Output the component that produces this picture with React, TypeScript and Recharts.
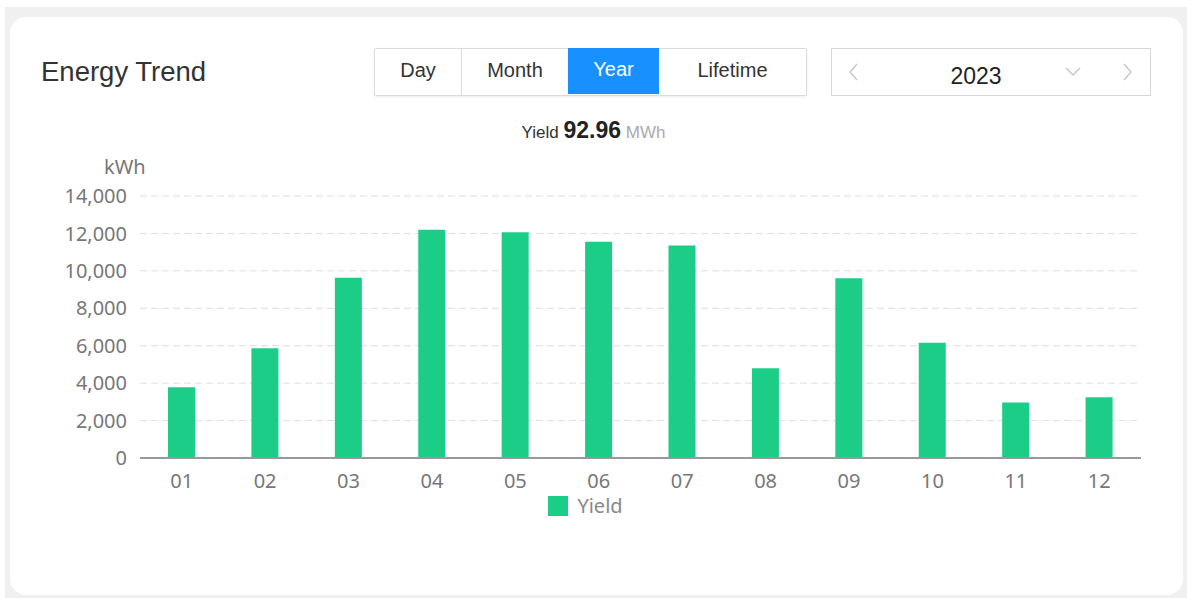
import { BarChart, Bar, XAxis, YAxis, CartesianGrid, Legend } from 'recharts'

const months = ['01', '02', '03', '04', '05', '06', '07', '08', '09', '10', '11', '12']
const yieldKwh = [3780, 5860, 9630, 12200, 12060, 11560, 11360, 4800, 9600, 6160, 2970, 3240]
const yTicks = [0, 2000, 4000, 6000, 8000, 10000, 12000, 14000]
const periods = ['Day', 'Month', 'Year', 'Lifetime']

const data = months.map((m, i) => ({ month: m, Yield: yieldKwh[i] }))

const GREEN = '#1ccd87'
const SANS = 'Arial, "Liberation Sans", sans-serif'
const TICK_FONT = '"Noto Sans", "Open Sans", sans-serif'

function LegendBox() {
  return (
    <div style={{ display: 'flex', justifyContent: 'center', alignItems: 'center', paddingTop: 4, marginLeft: 30 }}>
      <span style={{ width: 20, height: 20, background: GREEN, display: 'inline-block', marginRight: 9 }} />
      <span style={{ fontFamily: TICK_FONT, fontSize: 20, color: '#888' }}>Yield</span>
    </div>
  )
}

export default function App() {
  const btnWidths = [86, 107, 91, 147]
  return (
    <div style={{ position: 'absolute', left: 0, top: 0, width: 1187, height: 598, background: '#fff' }}>
      <div style={{ position: 'absolute', left: 5, top: 7, right: 0, bottom: 0, background: '#eff0f2' }} />
      <div style={{ position: 'absolute', left: 10, top: 17, width: 1173, height: 578, background: '#fff', borderRadius: 16 }} />

      <div style={{ position: 'absolute', left: 41, top: 56, fontFamily: SANS, fontSize: 27.5, color: '#333' }}>Energy Trend</div>

      {/* period switch */}
      <div style={{ position: 'absolute', left: 374, top: 48, height: 46, display: 'flex', border: '1px solid #dcdcdc', borderRadius: 2, boxShadow: '0 1px 3px rgba(0,0,0,0.08)', background: '#fff' }}>
        {periods.map((p, i) => (
          <div key={p} style={{
            width: btnWidths[i], height: 46, display: 'flex', alignItems: 'center', justifyContent: 'center',
            fontFamily: SANS, fontSize: 20, color: p === 'Year' ? '#fff' : '#333',
            background: p === 'Year' ? '#1890ff' : '#fff',
            borderLeft: i === 1 ? '1px solid #dcdcdc' : 'none',
            marginTop: p === 'Year' ? -1 : 0, paddingBottom: 3, boxSizing: 'border-box',
          }}>{p}</div>
        ))}
      </div>

      {/* year picker */}
      <div style={{ position: 'absolute', left: 831, top: 48, width: 318, height: 46, border: '1px solid #d6d6d6' }}>
        <svg width={318} height={46} style={{ position: 'absolute', left: 0, top: 0 }}>
          <polyline points="25,15 18,23 25,31" fill="none" stroke="#c8c8c8" strokeWidth={1.5} />
          <polyline points="234,19 241,26 248,19" fill="none" stroke="#c8c8c8" strokeWidth={1.5} />
          <polyline points="292,15 299,23 292,31" fill="none" stroke="#c8c8c8" strokeWidth={1.5} />
        </svg>
        <div style={{ position: 'absolute', left: 96, width: 96, top: 14, textAlign: 'center', fontFamily: SANS, fontSize: 23, color: '#222' }}>2023</div>
      </div>

      {/* total */}
      <div style={{ position: 'absolute', left: 0, width: 1187, top: 117, textAlign: 'center', fontFamily: SANS, color: '#333' }}>
        <span style={{ fontSize: 17 }}>Yield </span>
        <span style={{ fontSize: 23, fontWeight: 'bold', color: '#222' }}>92.96</span>
        <span style={{ fontSize: 17, color: '#aaa' }}> MWh</span>
      </div>

      <div style={{ position: 'absolute', left: 104, top: 153, fontFamily: TICK_FONT, fontSize: 20, color: '#777' }}>kWh</div>

      <div style={{ position: 'absolute', left: 0, top: 150 }}>
        <BarChart width={1187} height={380} data={data} margin={{ top: 46, right: 46, left: 0, bottom: 0 }}>
          <CartesianGrid vertical={false} stroke="#dedede" strokeDasharray="7 4" />
          <XAxis
            dataKey="month"
            height={30}
            tickLine={false}
            axisLine={{ stroke: '#999', strokeWidth: 2 }}
            tickMargin={10}
            tick={{ fill: '#777', fontSize: 20, fontFamily: TICK_FONT }}
          />
          <YAxis
            width={140}
            domain={[0, 14000]}
            ticks={yTicks}
            axisLine={false}
            tickLine={false}
            tickMargin={7}
            tickFormatter={(v: number) => v.toLocaleString('en-US')}
            tick={{ fill: '#777', fontSize: 20, fontFamily: TICK_FONT }}
          />
          <Legend height={42} verticalAlign="bottom" content={() => <LegendBox />} />
          <Bar dataKey="Yield" fill={GREEN} barSize={27} isAnimationActive={false} />
        </BarChart>
      </div>
    </div>
  )
}
